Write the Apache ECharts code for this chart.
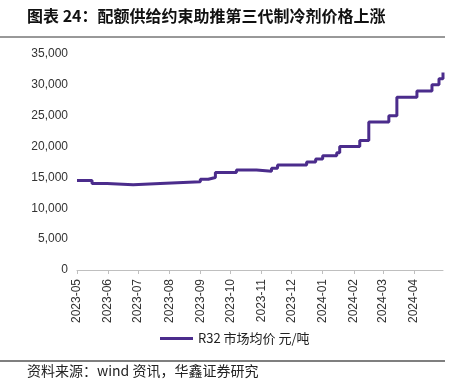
<!DOCTYPE html>
<html>
<head>
<meta charset="utf-8">
<script src="https://cdn.jsdelivr.net/npm/echarts@6/dist/echarts.min.js"></script>
<style>
html,body{margin:0;padding:0;background:#fff;}
#chart{width:462px;height:383px;}
</style>
</head>
<body>
<div id="chart"></div>
<script>
// Step-change dates and R32 market price (元/吨)
const dates = [
  '2023-05-01','2023-05-16','2023-05-31','2023-06-26','2023-07-23',
  '2023-09-01','2023-09-09','2023-09-16','2023-10-07','2023-10-27',
  '2023-11-11','2023-11-17','2023-12-16','2023-12-25','2024-01-01',
  '2024-01-15','2024-01-18','2024-02-07','2024-02-16','2024-03-07',
  '2024-03-15','2024-04-04','2024-04-19','2024-04-26','2024-04-30'
];
const prices = [
  14500,14000,13800,14000,14300,
  14700,15000,15800,16200,16000,
  16500,17000,17500,18000,18500,
  19000,20000,21000,24000,25000,
  28000,29000,30000,31000,32000
];
const monthTicks = ['2023-05','2023-06','2023-07','2023-08','2023-09','2023-10',
  '2023-11','2023-12','2024-01','2024-02','2024-03','2024-04'];
const yTicks = [0,5000,10000,15000,20000,25000,30000,35000];

const titleText = '图表 24：配额供给约束助推第三代制冷剂价格上涨';
const sourceText = '资料来源：wind 资讯，华鑫证券研究';
const seriesName = 'R32 市场均价 元/吨';

const startDate = '2023-05-01';
const endDate = '2024-04-30';
function dayOf(s){
  const p = s.split('-').map(Number);
  const b = startDate.split('-').map(Number);
  return Math.round((Date.UTC(p[0], p[1]-1, p[2] || 1) - Date.UTC(b[0], b[1]-1, b[2])) / 86400000);
}
const tickValues = monthTicks.map(dayOf);
const labelByDay = {};
monthTicks.forEach((m, i) => { labelByDay[tickValues[i]] = m; });

const chart = echarts.init(document.getElementById('chart'));
const cjk = '"Noto Sans CJK SC", sans-serif';
chart.setOption({
  backgroundColor: '#fff',
  animation: false,
  grid: {left: 77, right: 19, top: 54, bottom: 113, containLabel: false},
  xAxis: {
    type: 'value',
    min: dayOf(startDate),
    max: dayOf(endDate),
    splitLine: {show: false},
    axisLine: {show: true, lineStyle: {color: '#bfbfbf', width: 1}},
    axisTick: {show: true, customValues: tickValues, length: 4, lineStyle: {color: '#bfbfbf'}},
    axisLabel: {
      customValues: tickValues,
      rotate: 90,
      margin: 9,
      fontSize: 12,
      color: '#333',
      fontFamily: '"Liberation Sans", Arial, sans-serif',
      formatter: function(v){ return labelByDay[Math.round(v)] || ''; }
    }
  },
  yAxis: {
    type: 'value',
    min: 0, max: 35000, interval: 5000,
    splitLine: {show: false},
    axisLine: {show: false},
    axisTick: {show: false},
    axisLabel: {
      margin: 9,
      fontSize: 12,
      color: '#333',
      fontFamily: '"Liberation Sans", Arial, sans-serif',
      formatter: function(v){ return v.toLocaleString('en-US'); }
    }
  },
  legend: {
    left: 155, top: 327,
    icon: 'rect', itemWidth: 33, itemHeight: 3, itemGap: 2,
    textStyle: {fontSize: 13, color: '#222', fontFamily: cjk},
    data: [seriesName]
  },
  series: [{
    name: seriesName,
    type: 'line',
    step: 'end',
    showSymbol: false,
    symbol: 'none',
    lineStyle: {color: '#4B2C8C', width: 3},
    itemStyle: {color: '#4B2C8C'},
    data: dates.map((d,i) => [dayOf(d), prices[i]])
  }],
  graphic: [
    {type: 'text', left: 27, top: 8, style: {text: titleText, fill: '#111', font: 'bold 16px ' + cjk}},
    {type: 'line', shape: {x1: 0, y1: 37, x2: 445, y2: 37}, style: {stroke: '#333', lineWidth: 1}},
    {type: 'line', shape: {x1: 0, y1: 361, x2: 445, y2: 361}, style: {stroke: '#555', lineWidth: 1.5}},
    {type: 'text', left: 27, top: 364, style: {text: sourceText, fill: '#222', font: '14px ' + cjk}}
  ]
});
</script>
</body>
</html>
